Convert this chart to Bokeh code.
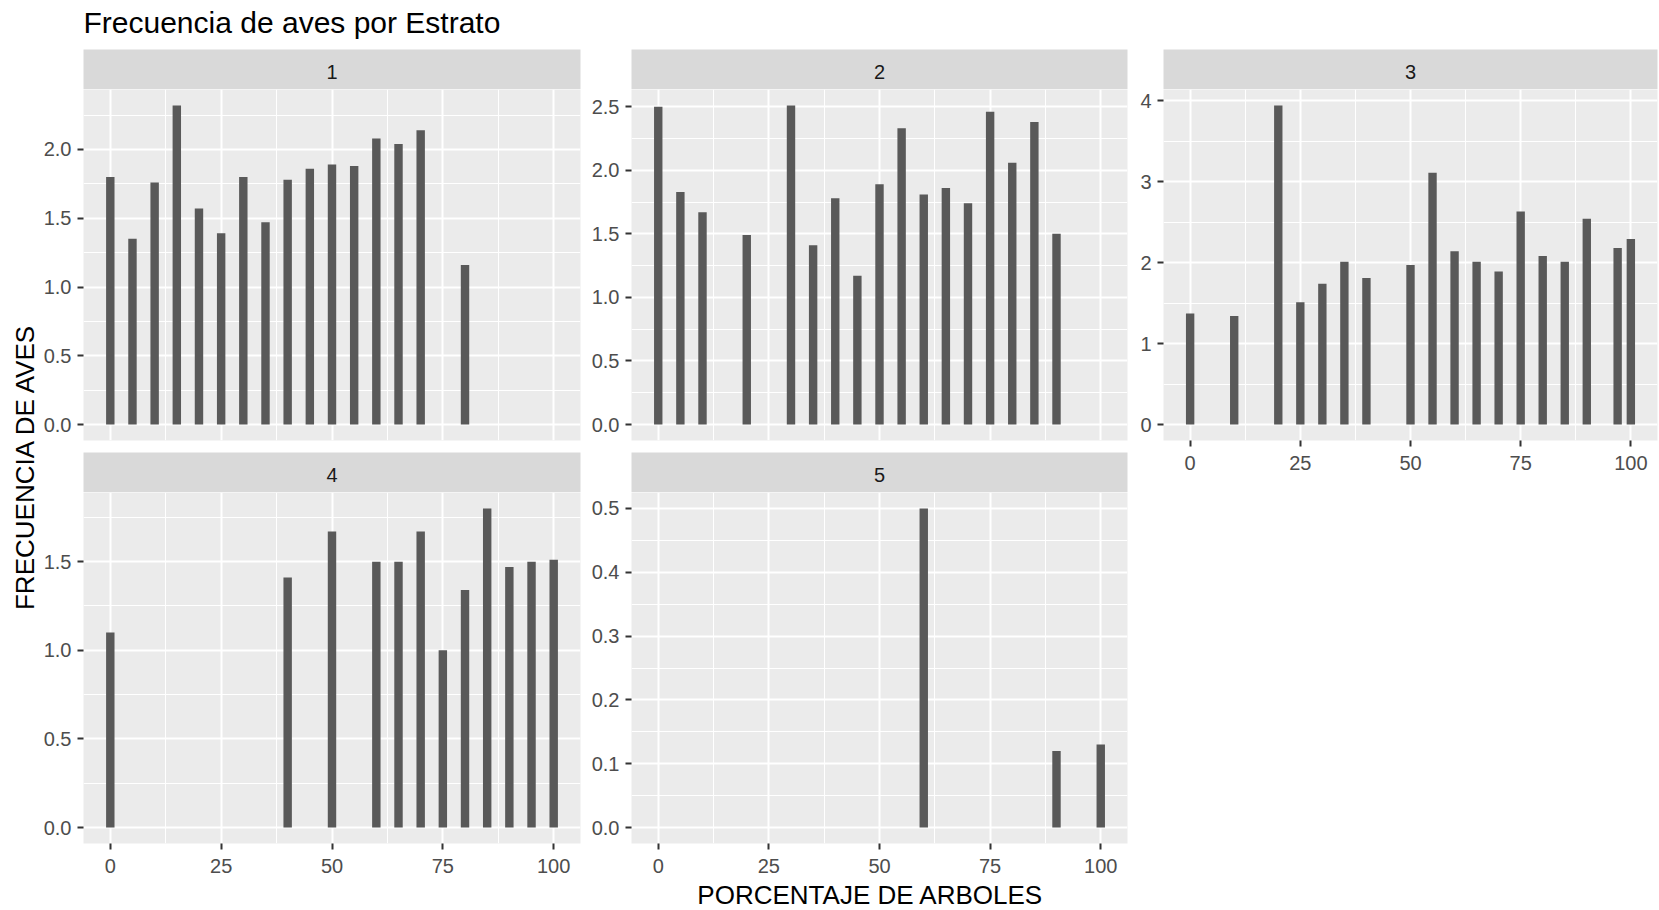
from bokeh.plotting import figure
from bokeh.models import Range1d, FixedTicker, LinearAxis, Grid, PrintfTickFormatter
from bokeh.layouts import row, column
from bokeh.embed import file_html
from bokeh.resources import INLINE
from bokeh.core.properties import value
import math

# ---------------- data ----------------
title_text = "Frecuencia de aves por Estrato"
x_label = "PORCENTAJE DE ARBOLES"
y_label = "FRECUENCIA DE AVES"
estratos = ["1", "2", "3", "4", "5"]

e1_x = [0, 5, 10, 15, 20, 25, 30, 35, 40, 45, 50, 55, 60, 65, 70, 80]
e1_y = [1.80, 1.35, 1.76, 2.32, 1.57, 1.39, 1.80, 1.47, 1.78, 1.86, 1.89, 1.88, 2.08, 2.04, 2.14, 1.16]

e2_x = [0, 5, 10, 20, 30, 35, 40, 45, 50, 55, 60, 65, 70, 75, 80, 85, 90]
e2_y = [2.50, 1.83, 1.67, 1.49, 2.51, 1.41, 1.78, 1.17, 1.89, 2.33, 1.81, 1.86, 1.74, 2.46, 2.06, 2.38, 1.50]

e3_x = [0, 10, 20, 25, 30, 35, 40, 50, 55, 60, 65, 70, 75, 80, 85, 90, 97, 100]
e3_y = [1.37, 1.34, 3.94, 1.51, 1.74, 2.01, 1.81, 1.97, 3.11, 2.14, 2.01, 1.89, 2.63, 2.08, 2.01, 2.54, 2.18, 2.29]

e4_x = [0, 40, 50, 60, 65, 70, 75, 80, 85, 90, 95, 100]
e4_y = [1.10, 1.41, 1.67, 1.50, 1.50, 1.67, 1.00, 1.34, 1.80, 1.47, 1.50, 1.51]

e5_x = [60, 90, 100]
e5_y = [0.50, 0.12, 0.13]

x_ticks = [0, 25, 50, 75, 100]
x_minor = [12.5, 37.5, 62.5, 87.5]

y1_ticks = [0, 0.5, 1.0, 1.5, 2.0]
y1_minor = [0.25, 0.75, 1.25, 1.75, 2.25]
y2_ticks = [0, 0.5, 1.0, 1.5, 2.0, 2.5]
y2_minor = [0.25, 0.75, 1.25, 1.75, 2.25]
y3_ticks = [0, 1, 2, 3, 4]
y3_minor = [0.5, 1.5, 2.5, 3.5]
y4_ticks = [0, 0.5, 1.0, 1.5]
y4_minor = [0.25, 0.75, 1.25, 1.75]
y5_ticks = [0, 0.1, 0.2, 0.3, 0.4, 0.5]
y5_minor = [0.05, 0.15, 0.25, 0.35, 0.45]

# ---------------- style / layout ----------------
FONT = "Liberation Sans"
BAR_W = 1.9
BAR_COLOR = "#595959"
PANEL_BG = "#EBEBEB"
STRIP_BG = "#D9D9D9"

TOTAL_W = 1659
TOTAL_H = 910
TITLE_H = 49
STRIP_H = 40
PANEL_H = 351
GAP = 12
XAX_H = 38
YTITLE_W = 40

COLS = [(43, 497, 7), (44, 496, 4), (32, 494, 2)]  # (left border, frame width, right border)

all_x = e1_x + e2_x + e3_x + e4_x + e5_x
x_lo = min(all_x) - BAR_W / 2
x_hi = max(all_x) + BAR_W / 2
x_pad = 0.05 * (x_hi - x_lo)
X_START, X_END = x_lo - x_pad, x_hi + x_pad


def base_fig(w, h, xr, yr, **kw):
    opts = dict(width=w, height=h, x_range=xr, y_range=yr, x_axis_type=None, y_axis_type=None,
                toolbar_location=None, output_backend="svg",
                min_border_left=0, min_border_right=0, min_border_top=0, min_border_bottom=0,
                background_fill_color="white", border_fill_color="white", outline_line_color=None)
    opts.update(kw)
    return figure(**opts)


def style_axis(ax, standoff):
    ax.axis_line_color = None
    ax.major_tick_line_color = "#333333"
    ax.major_tick_line_width = 2
    ax.major_tick_in = 0
    ax.major_tick_out = 6
    ax.minor_tick_line_color = None
    ax.major_label_text_font = FONT
    ax.major_label_text_font_size = "20px"
    ax.major_label_text_color = "#4D4D4D"
    ax.major_label_standoff = standoff


def strip(label, col):
    L, W, R = col
    p = base_fig(L + W + R, STRIP_H, Range1d(0, 1), Range1d(0, STRIP_H),
                 min_border_left=L, min_border_right=R, background_fill_color=STRIP_BG)
    p.text(x=[0.5], y=[STRIP_H / 2 - 2.5], text=[label], text_align="center", text_baseline="middle",
           text_font=value(FONT), text_font_size=value("20px"), text_color="#1A1A1A")
    return p


def panel(xs, ys, yt, ym, fmt, col, show_x):
    L, W, R = col
    bottom = XAX_H if show_x else GAP
    ymax = max(ys)
    pad = 0.05 * ymax
    p = base_fig(L + W + R, PANEL_H + bottom, Range1d(X_START, X_END), Range1d(-pad, ymax + pad),
                 min_border_left=L, min_border_right=R, min_border_bottom=bottom,
                 background_fill_color=PANEL_BG)
    xt = FixedTicker(ticks=x_ticks, minor_ticks=x_minor)
    ytk = FixedTicker(ticks=yt, minor_ticks=ym)
    for dim, tk in ((0, xt), (1, ytk)):
        g = Grid(dimension=dim, ticker=tk)
        g.grid_line_color = "white"
        g.grid_line_width = 2
        g.minor_grid_line_color = "white"
        g.minor_grid_line_width = 1
        p.add_layout(g, "center")
    yax = LinearAxis(ticker=ytk, formatter=PrintfTickFormatter(format=fmt))
    style_axis(yax, 6)
    p.add_layout(yax, "left")
    if show_x:
        xax = LinearAxis(ticker=xt, formatter=PrintfTickFormatter(format="%d"))
        style_axis(xax, 9)
        p.add_layout(xax, "below")
    p.vbar(x=xs, top=ys, bottom=0, width=BAR_W, fill_color=BAR_COLOR, line_color=None)
    return p


# facets
p1 = panel(e1_x, e1_y, y1_ticks, y1_minor, "%.1f", COLS[0], False)
p2 = panel(e2_x, e2_y, y2_ticks, y2_minor, "%.1f", COLS[1], False)
p3 = panel(e3_x, e3_y, y3_ticks, y3_minor, "%d", COLS[2], True)
p4 = panel(e4_x, e4_y, y4_ticks, y4_minor, "%.1f", COLS[0], True)
p5 = panel(e5_x, e5_y, y5_ticks, y5_minor, "%.1f", COLS[1], True)

col1 = column(strip(estratos[0], COLS[0]), p1, strip(estratos[3], COLS[0]), p4)
col2 = column(strip(estratos[1], COLS[1]), p2, strip(estratos[4], COLS[1]), p5)
col3 = column(strip(estratos[2], COLS[2]), p3)

MAIN_H = STRIP_H + PANEL_H + GAP + STRIP_H + PANEL_H + XAX_H
frame_top = STRIP_H
frame_bottom = STRIP_H + PANEL_H + GAP + STRIP_H + PANEL_H

# y title
yt_fig = base_fig(YTITLE_W, MAIN_H, Range1d(0, YTITLE_W), Range1d(0, MAIN_H))
yt_fig.text(x=[24.4], y=[MAIN_H - (frame_top + frame_bottom) / 2], text=[y_label], angle=math.pi / 2,
            text_align="center", text_baseline="middle",
            text_font=value(FONT), text_font_size=value("26px"), text_color="black")

# panels horizontal extent
c1_left = YTITLE_W + COLS[0][0]
c3_right = TOTAL_W - COLS[2][2]

# title
t_fig = base_fig(TOTAL_W, TITLE_H, Range1d(0, TOTAL_W), Range1d(0, TITLE_H))
t_fig.text(x=[c1_left], y=[TITLE_H - 21.5], text=[title_text], text_align="left", text_baseline="middle",
           text_font=value(FONT), text_font_size=value("30px"), text_color="black")

# x title
XT_H = TOTAL_H - TITLE_H - MAIN_H
xt_fig = base_fig(TOTAL_W, XT_H, Range1d(0, TOTAL_W), Range1d(0, XT_H))
xt_fig.text(x=[(c1_left + c3_right) / 2], y=[XT_H - 13], text=[x_label], text_align="center",
            text_baseline="middle",
            text_font=value(FONT), text_font_size=value("26px"), text_color="black")

layout = column(t_fig, row(yt_fig, col1, col2, col3), xt_fig)

with open("out.html", "w") as f:
    f.write(file_html(layout, INLINE))
